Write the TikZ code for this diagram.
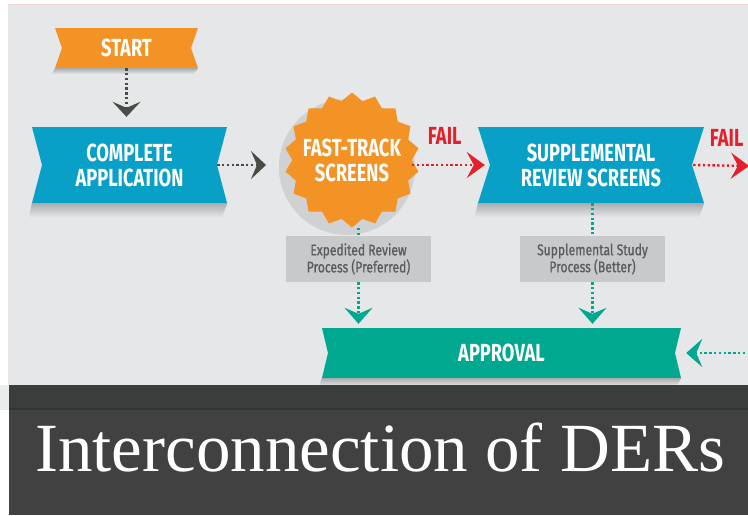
\documentclass[tikz,border=0pt]{standalone}
\usepackage{fontspec}
\newfontfamily\bannerfont[FakeStretch=0.74]{Fira Sans}
\newfontfamily\notefont[FakeStretch=0.78,FakeBold=0.8]{Fira Sans}
\newfontfamily\titleserif{Liberation Serif}
\usetikzlibrary{arrows.meta,shapes.geometric,positioning}

\definecolor{panel}{HTML}{E6E7E8}
\definecolor{pinkline}{HTML}{F2D6D6}
\definecolor{bandtop}{HTML}{3B3D3D}
\definecolor{bandline}{HTML}{323333}
\definecolor{bandgray}{HTML}{414141}
\definecolor{startorange}{HTML}{F39325}
\definecolor{screenblue}{HTML}{08A0C7}
\definecolor{okteal}{HTML}{00A88F}
\definecolor{failred}{HTML}{E4202C}
\definecolor{notegray}{HTML}{C8C9CB}
\definecolor{notetext}{HTML}{5B5B5B}
\definecolor{arrowgray}{HTML}{4A4A48}
\definecolor{shadowgray}{HTML}{ABACAE}
\definecolor{burstgray}{HTML}{D0D1D3}

\pgfdeclareradialshading{burstshadow}{\pgfpoint{0bp}{0bp}}{color(0bp)=(burstgray); color(34bp)=(burstgray); color(50bp)=(panel)}
\def\bannershadow(#1)(#2){\shade[top color=shadowgray, bottom color=panel] (#1.south west) -- (#1.south east) -- ([xshift=-5pt,yshift=-#2]#1.south east) -- ([xshift=-3pt,yshift=-#2]#1.south west) -- cycle;}

\tikzset{
  notchdepth/.store in=\bannernotch, notchdepth=8pt,
  bannertext/.style={text=white, align=center, font=\bannerfont\bfseries\fontsize{24.7}{25}\selectfont},
  banner/.style={rectangle, inner sep=0pt, bannertext,
    path picture={\fill[#1] (path picture bounding box.north west)
      -- (path picture bounding box.north east)
      -- ([xshift=-\bannernotch]path picture bounding box.east)
      -- (path picture bounding box.south east)
      -- (path picture bounding box.south west)
      -- ([xshift=\bannernotch]path picture bounding box.west) -- cycle;}},
  burst/.style={star, star points=18, star point ratio=1.13, minimum size=#1, inner sep=0pt, fill=startorange},
  note/.style={rectangle, fill=notegray, inner sep=0pt, minimum width=145pt, minimum height=46pt,
    text=notetext, align=center, font=\notefont\fontsize{15.5}{17}\selectfont},
  fail/.style={text=failred, inner sep=0pt, font=\bannerfont\bfseries\fontsize{24.7}{25}\selectfont},
  dotline/.style={line width=2.4pt, dash pattern=on 2.4pt off 2.4pt},
  darkflow/.style={dotline, arrowgray, -{Stealth[length=15pt,width=28pt,inset=6pt]}},
  failflow/.style={dotline, failred, -{Stealth[length=18pt,width=26pt,inset=7pt]}},
  tealdots/.style={dotline, okteal},
  tealflow/.style={dotline, okteal, -{Stealth[length=16pt,width=28pt,inset=6pt]}}
}

\begin{document}
\begin{tikzpicture}[x=1pt,y=-1pt]
  %%%%% BACKGROUND %%%%%
  \useasboundingbox (0,0) rectangle (748,515);
  \fill[white] (0,0) rectangle (748,515);
  \fill[panel] (8,5) rectangle (748,410);
  \draw[pinkline, line width=1pt] (8,4.5) -- (748,4.5);
  \fill[panel!80!white] (0,385) rectangle (9,410);

  %%%%% SHADOWS %%%%%
  \shade[shading=burstshadow] (347,167) circle (68);

  %%%%% BANNERS %%%%%
  \node[banner=startorange, notchdepth=7pt, minimum width=143pt, minimum height=40pt] (start) at (126.5,48) {START};
  \node[banner=screenblue, notchdepth=10pt, minimum width=195pt, minimum height=76pt] (complete) at (129.5,165) {COMPLETE\\APPLICATION};
  \node[burst=135pt, label={[bannertext]center:FAST-TRACK\\SCREENS}] (fast) at (352,160) {};
  \node[banner=screenblue, notchdepth=12pt, minimum width=226pt, minimum height=76pt] (supp) at (591,165) {SUPPLEMENTAL\\REVIEW SCREENS};
  \node[banner=okteal, notchdepth=6pt, minimum width=359pt, minimum height=50pt] (approval) at (501.5,353) {APPROVAL};

  \bannershadow(start)(6pt)
  \bannershadow(complete)(14pt)
  \bannershadow(supp)(14pt)
  \bannershadow(approval)(8pt)

  %%%%% NOTES %%%%%
  \node[note] (expedite) at (358.5,259) {Expedited Review\\Process (Preferred)};
  \node[note] (study) at (592.5,259) {Supplemental Study\\Process (Better)};

  %%%%% ARROWS %%%%%
  \coordinate (offR) at (749,166);
  \coordinate (offA) at (750,353);

  \draw[darkflow, shorten >=10pt] (start.south) -- (start.south |- complete.north);
  \draw[darkflow, shorten >=26pt] ([xshift=-10pt]complete.east) -- (complete.east -| fast.west);

  \draw[failflow] (fast.east |- supp.west) -- ([xshift=7pt]supp.west) node[fail, pos=0.45, above=19pt] {FAIL};
  \draw[failflow] ([xshift=-11pt]supp.east) -- (offR) node[fail, pos=0.6, above=18pt] {FAIL};

  \draw[tealdots] (expedite.north |- fast.south) -- (expedite.north);
  \draw[tealflow, shorten >=4pt] (expedite.south) -- (expedite.south |- approval.north);
  \draw[tealdots] (study.north |- supp.south) -- (study.north);
  \draw[tealflow, shorten >=4pt] (study.south) -- (study.south |- approval.north);
  \draw[tealflow, shorten >=5pt] (offA) -- (approval.east);

  %%%%% TITLE BAND %%%%%
  \fill[bandtop] (9,385) rectangle (748,409);
  \fill[bandline] (9,407.5) rectangle (748,410);
  \fill[bandgray] (9,410) rectangle (748,515);
  \node[anchor=base west, inner sep=0pt, text=white, font=\titleserif\fontsize{69}{69}\selectfont] (title) at (35,471) {Interconnection of DERs};
\end{tikzpicture}
\end{document}
